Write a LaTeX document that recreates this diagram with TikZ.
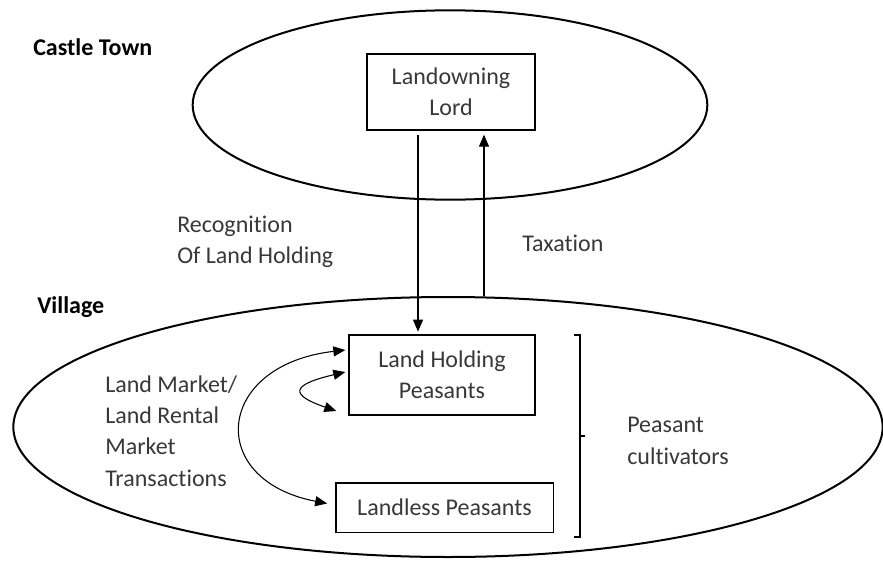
\documentclass[tikz,border=0pt]{standalone}
\usepackage{fontspec}
\setmainfont[Ligatures=NoCommon]{Carlito}
\usetikzlibrary{shapes.geometric,arrows.meta,calc}
\tikzset{
x=0.75pt, y=-0.75pt,
>={Triangle[length=9pt,width=7.5pt]},
every node/.style={font=\fontsize{18}{23.5}\selectfont, text=black!78},
region/.style={ellipse, draw, line width=1.5pt, inner sep=0pt},
actor/.style={rectangle, draw, line width=1pt, align=center, inner sep=0pt},
note/.style={align=left, inner sep=0pt, anchor=west},
heading/.style={inner sep=0pt, anchor=west, text=black, font=\fontsize{18}{20}\selectfont\bfseries},
flow/.style={->, line width=0.8pt},
}

\begin{document}
\begin{tikzpicture}
    \useasboundingbox (0,0) rectangle (883,561);

    % the two places
    \node[region, minimum width=386pt, minimum height=142pt] (town) at (450,105) {};
    \node[region, minimum width=652pt, minimum height=195pt] (village) at (448,427) {};
    \node[heading] (townlbl) at (33,47) {Castle Town};
    \node[heading] (villagelbl) at (37,307) {Village};

    % actors
    \node[actor, minimum width=126pt, minimum height=57pt] (lord) at (451,92) {Landowning\\Lord};
    \node[actor, minimum width=139.5pt, minimum height=60pt] (lhp) at (442,375) {Land Holding\\Peasants};
    \node[actor, minimum width=163pt, minimum height=37pt] (landless) at (444.5,507.5) {Landless Peasants};

    % labels
    \node[note] (recog) at (177,242) {Recognition\\Of Land Holding};
    \node[note] (tax) at (522,243) {Taxation};
    \node[note] (market) at (105,431) {Land Market/\\Land Rental\\Market\\Transactions};
    \node[note] (cult) at (627,441) {Peasant\\cultivators};

    % between town and village
    \coordinate (dn) at (418,0);
    \coordinate (up) at (484,0);
    \draw[flow, shorten <=3pt, shorten >=2pt] (lord.south -| dn) -- (lhp.north -| dn);
    \draw[flow, shorten >=3pt] (village.north -| up) -- (lord.south -| up);

    % transactions among peasants
    \draw[flow, <->] ($(lhp.west)+(-3,-25)$) .. controls (215,365) and (205,480) .. ($(landless.west)+(-8,-4)$);
    \draw[flow, <->] ($(lhp.west)+(-3,-3)$) .. controls (290,385) and (290,395) .. ($(lhp.west)+(-12,36)$);

    % bracket
    \draw[line width=0.8pt] (574,335) -- (580,335) -- (580,537) -- (574,537);
    \draw[line width=0.8pt] (580,436) -- (585,436);
\end{tikzpicture}
\end{document}
